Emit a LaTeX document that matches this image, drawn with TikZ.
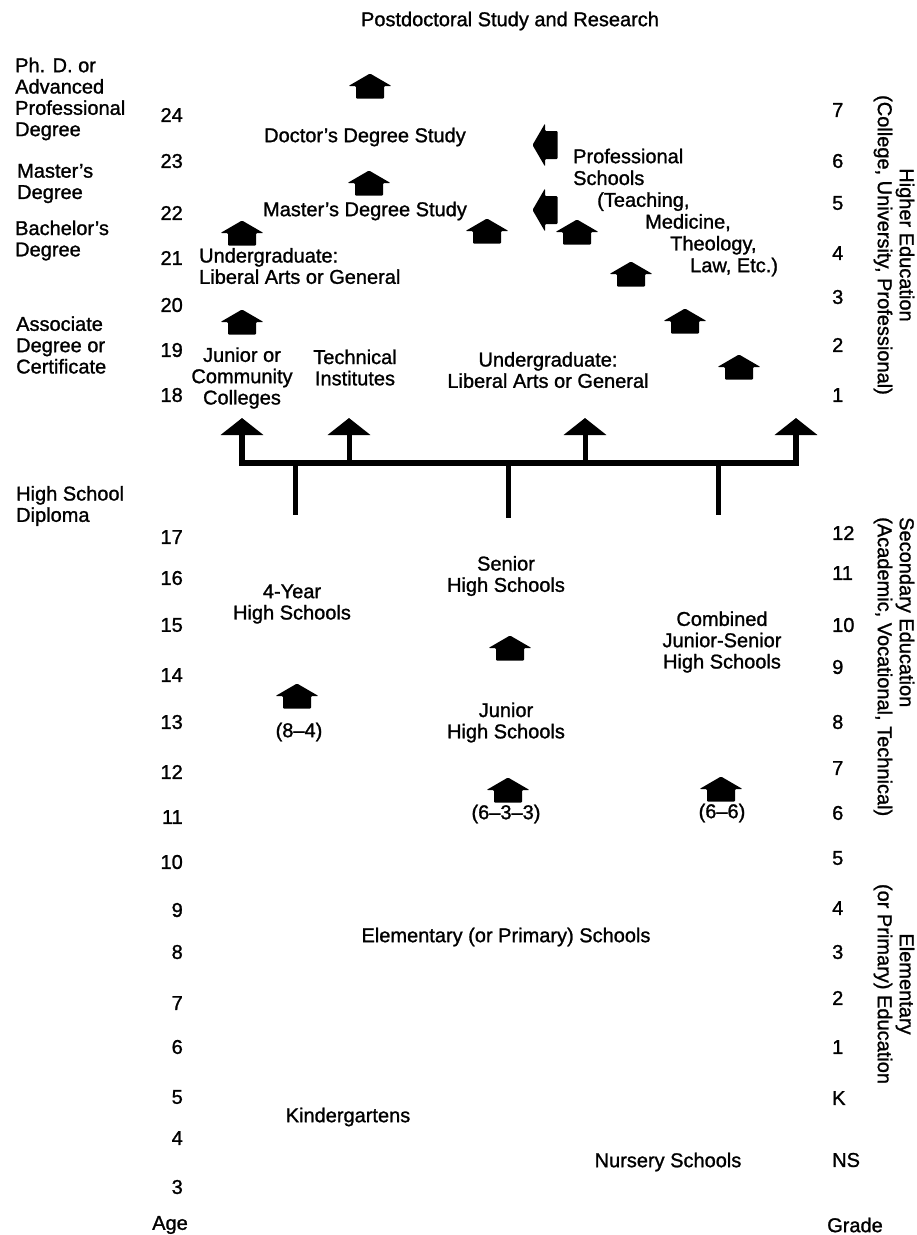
\documentclass[tikz,border=0pt]{standalone}
\usepackage{fontspec}
\setmainfont{Liberation Sans}[FakeBold=1.2]
\usetikzlibrary{arrows.meta}
\begin{document}
\begin{tikzpicture}[x=1pt,y=-1pt,
  lbl/.style={inner sep=0pt,font=\fontsize{20}{21.3}\selectfont},
  side/.style={lbl,rotate=-90,font=\fontsize{20}{22}\selectfont},
  stemline/.style={line width=5pt},
  barline/.style={line width=6pt,line join=miter},
  tip/.style={-{Triangle[width=42pt,length=17pt]}},
  house/.pic={\fill[rounded corners=1pt] (0,-12.5) -- (21.5,0) -- (14,0) -- (14,12.5) -- (-14,12.5) -- (-14,0) -- (-21.5,0) -- cycle;}
]
\useasboundingbox (0,0) rectangle (917,1235);

% ---------- left column: degrees ----------
\node[lbl,anchor=west,align=left] (phd) at (15,99) {Ph. D. or\\Advanced\\Professional\\Degree};
\node[lbl,anchor=west,align=left] (masters) at (17,183.5) {Master’s\\Degree};
\node[lbl,anchor=west,align=left] (bachelors) at (15,240.5) {Bachelor’s\\Degree};
\node[lbl,anchor=west,align=left] (assoc) at (16,345) {Associate\\Degree or\\Certificate};
\node[lbl,anchor=west,align=left] (hsdip) at (16,506) {High School\\Diploma};

% ---------- ages ----------
\foreach \t/\y in {24/115,23/161,22/213,21/258,20/305,19/350,18/395,17/537,16/578,15/625,14/675,13/722,12/772,11/817,10/862,9/910,8/952,7/1003,6/1047,5/1097,4/1138,3/1187}
  \node[lbl,anchor=east] (age\t) at (183,\y) {\t};
\node[lbl] (age) at (170,1225) {Age};

% ---------- grades ----------
\foreach \t/\y in {7/110,6/161,5/203,4/253,3/297,2/345,1/395}
  \node[lbl,anchor=west] (gH\t) at (832,\y) {\t};
\foreach \t/\y in {12/533,11/573,10/625,9/667,8/722,7/768,6/813}
  \node[lbl,anchor=west] (gS\t) at (832,\y) {\t};
\foreach \t/\y in {5/858,4/908,3/952,2/998,1/1047}
  \node[lbl,anchor=west] (gE\t) at (832,\y) {\t};
\node[lbl,anchor=west] (gK) at (832,1098) {K};
\node[lbl,anchor=west] (gNS) at (832,1160) {NS};
\node[lbl,anchor=west] (grade) at (827,1225) {Grade};

% ---------- side titles ----------
\node[side,align=center] (higher) at (894,245) {Higher Education\\(College, University, Professional)};
\node[side,align=left,anchor=west] (secondary) at (894,517) {Secondary Education\\(Academic, Vocational, Technical)};
\node[side,align=center] (elementary) at (894,984) {Elementary\\(or Primary) Education};

% ---------- higher education ----------
\node[lbl] (post) at (510,21) {Postdoctoral Study and Research};
\pic at (370,86) {house};
\node[lbl] (doctor) at (365,137) {Doctor’s Degree Study};
\pic at (369,183) {house};
\node[lbl] (masterstudy) at (365,211) {Master’s Degree Study};
\pic at (242,233) {house};
\node[lbl,anchor=west,align=left] (ug1) at (199,266) {Undergraduate:\\Liberal Arts or General};
\pic[rotate=90] at (545,145) {house};
\pic[rotate=90] at (545,210) {house};
\node[lbl,anchor=west,align=left,font=\fontsize{20}{21.8}\selectfont] (prof) at (573,212.5)
  {Professional\\Schools\\\hspace*{24pt}(Teaching,\\\hspace*{72pt}Medicine,\\\hspace*{97pt}Theology,\\\hspace*{117pt}Law, Etc.)};
\pic at (487,231) {house};
\pic at (577,232) {house};
\pic at (631,274) {house};
\pic at (242,322) {house};
\pic at (685,321) {house};
\pic at (739,367) {house};

\node[lbl,align=center] (junior) at (242,378) {Junior or\\Community\\Colleges};
\node[lbl,align=center] (tech) at (355,367.5) {Technical\\Institutes};
\node[lbl,align=center] (ug2) at (548,370) {Undergraduate:\\Liberal Arts or General};

% ---------- branching connector ----------
\coordinate (u1) at (242,418);
\coordinate (u2) at (349,418);
\coordinate (u3) at (585,418);
\coordinate (u4) at (796,418);
\coordinate (barL) at (242,463);
\coordinate (barR) at (796,463);
\coordinate (d1) at (295,515);
\coordinate (d2) at (508,518);
\coordinate (d3) at (718,515);
\draw[barline,{Triangle[width=42pt,length=17pt]}-{Triangle[width=42pt,length=17pt]}] (u1) -- (barL) -- (barR) -- (u4);
\draw[stemline,tip] (u2 |- barL) -- (u2);
\draw[stemline,tip] (u3 |- barL) -- (u3);
\draw[stemline] (d1 |- barL) -- (d1);
\draw[stemline] (d2 |- barL) -- (d2);
\draw[stemline] (d3 |- barL) -- (d3);

% ---------- secondary ----------
\node[lbl,align=center] (fouryear) at (292,604) {4-Year\\High Schools};
\pic at (297,696) {house};
\node[lbl] (p84) at (299,732) {(8–4)};
\node[lbl,align=center] (senior) at (506,576) {Senior\\High Schools};
\pic at (510,648) {house};
\node[lbl,align=center] (junhs) at (506,722.5) {Junior\\High Schools};
\pic at (508,790) {house};
\node[lbl] (p633) at (506,814) {(6–3–3)};
\node[lbl,align=center] (combined) at (722,642) {Combined\\Junior-Senior\\High Schools};
\pic at (721,789) {house};
\node[lbl] (p66) at (722,813) {(6–6)};

% ---------- elementary ----------
\node[lbl] (elem) at (506,937) {Elementary (or Primary) Schools};
\node[lbl] (kinder) at (348,1117) {Kindergartens};
\node[lbl] (nursery) at (668,1162) {Nursery Schools};
\end{tikzpicture}
\end{document}
